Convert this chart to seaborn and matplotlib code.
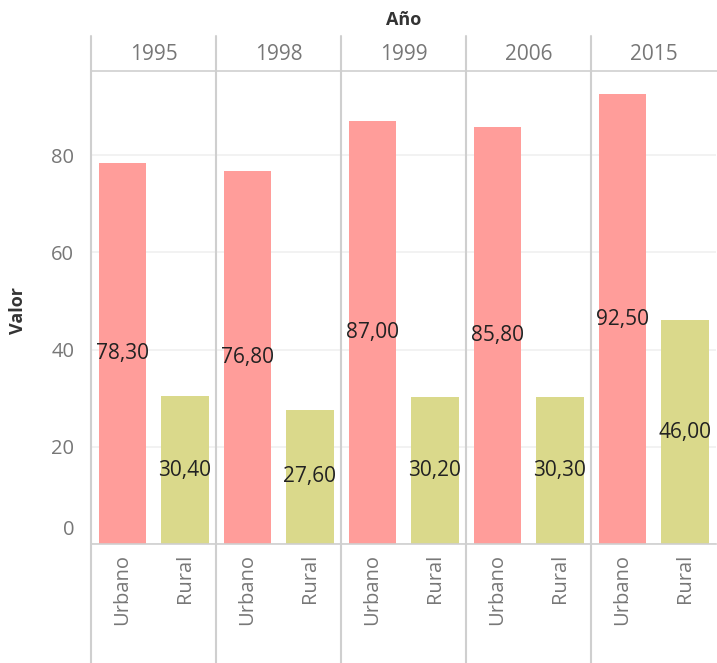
import matplotlib
matplotlib.use("Agg")
import matplotlib.pyplot as plt
import seaborn as sns
import pandas as pd
from matplotlib.lines import Line2D
from matplotlib.transforms import ScaledTranslation

years = ["1995", "1998", "1999", "2006", "2015"]
zones = ["Urbano", "Rural"]
urbano = [78.3, 76.8, 87.0, 85.8, 92.5]
rural = [30.4, 27.6, 30.2, 30.3, 46.0]
colors = {"Urbano": "#FF9D9A", "Rural": "#DAD98B"}

rows = []
for y, u, r in zip(years, urbano, rural):
    rows.append({"Año": y, "Zona": "Urbano", "Valor": u})
    rows.append({"Año": y, "Zona": "Rural", "Valor": r})
df = pd.DataFrame(rows)

sns.set_theme(style="white")
plt.rcParams["font.family"] = ["Open Sans", "DejaVu Sans"]

W, H = 717, 663
fig, axes = plt.subplots(1, len(years), sharey=True, figsize=(W / 100, H / 100), dpi=100,
                         gridspec_kw={"wspace": 0})
fig.subplots_adjust(left=91 / W, right=716 / W, bottom=1 - 544 / H, top=1 - 71 / H)

gray = "#777777"
line_c = "#CFCFCF"

for i, (ax, yr) in enumerate(zip(axes, years)):
    sub = df[df["Año"] == yr]
    sns.barplot(data=sub, x="Zona", y="Valor", hue="Zona", order=zones, hue_order=zones,
                palette=colors, width=0.76, legend=False, ax=ax, saturation=1, linewidth=0)
    for j, z in enumerate(zones):
        v = sub[sub["Zona"] == z]["Valor"].iloc[0]
        ax.text(j, v / 2, f"{v:.2f}".replace(".", ","), ha="center", va="center",
                fontsize=15, color="#222222")
    ax.set_ylim(0, 97.3)
    ax.set_xlim(-0.5, 1.5)
    ax.set_yticks([0, 20, 40, 60, 80])
    ax.yaxis.grid(True, color="#F0F0F0", linewidth=1.2)
    ax.set_axisbelow(True)
    for s in ["top", "right", "left"]:
        ax.spines[s].set_visible(False)
    ax.spines["bottom"].set_color(line_c)
    ax.spines["bottom"].set_linewidth(1.2)
    ax.set_xlabel("")
    ax.set_ylabel("")
    ax.tick_params(axis="x", length=0, pad=7, labelsize=14.5, labelcolor=gray, labelrotation=90)
    ax.tick_params(axis="y", length=0, pad=12, labelsize=14.5, labelcolor=gray)
    for lab in ax.get_xticklabels():
        lab.set_va("top")
    pos = ax.get_position()
    fig.text((pos.x0 + pos.x1) / 2, 1 - 55 / H, yr, ha="center", va="center",
             fontsize=15, color=gray)
    fig.add_artist(Line2D([pos.x0, pos.x0], [0, 1 - 36 / H], transform=fig.transFigure,
                          color=line_c, linewidth=1.5))

# shift the "0" tick label up like the reference
fig.canvas.draw()
zero_lab = axes[0].get_yticklabels()[0]
zero_lab.set_transform(zero_lab.get_transform() + ScaledTranslation(0, 12 / 72, fig.dpi_scale_trans))

fig.add_artist(Line2D([91 / W, 1], [1 - 71 / H, 1 - 71 / H], transform=fig.transFigure,
                      color=line_c, linewidth=1.2))

fig.text(404 / W, 1 - 20 / H, "Año", ha="center", va="center", fontsize=13,
         fontweight="bold", color="#333333")
fig.text(18 / W, 1 - 310 / H, "Valor", ha="center", va="center", rotation=90,
         fontsize=13, fontweight="bold", color="#333333")

fig.savefig("out.png", dpi=100)
